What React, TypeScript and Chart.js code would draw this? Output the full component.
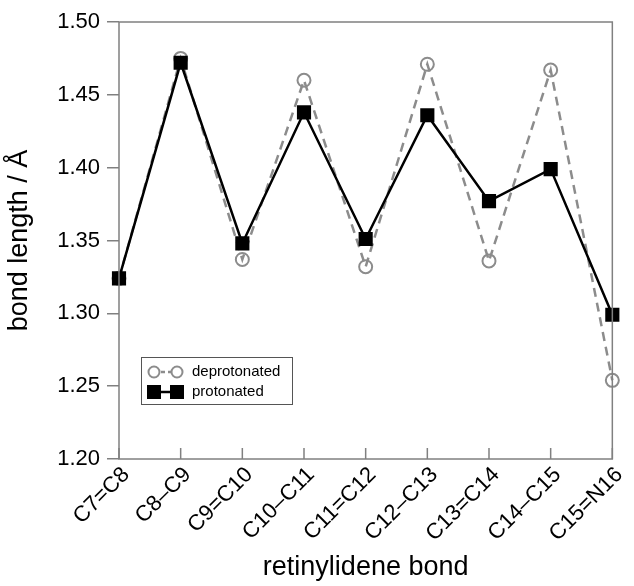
import React, { useEffect, useRef } from "react";
import { Chart, registerables } from "chart.js";

Chart.register(...registerables);

const categories = ["C7=C8", "C8–C9", "C9=C10", "C10–C11", "C11=C12", "C12–C13", "C13=C14", "C14–C15", "C15=N16"];
const deprotonated = [1.324, 1.475, 1.337, 1.460, 1.332, 1.471, 1.336, 1.467, 1.254];
const protonated = [1.324, 1.472, 1.348, 1.438, 1.351, 1.436, 1.377, 1.399, 1.299];
const legendLabels = ["deprotonated", "protonated"];

const FONT = "'Liberation Sans', Arial, Helvetica, sans-serif";
const AXIS_GRAY = "#808080";
const DEP_GRAY = "#8c8c8c";

const framePlugin = {
  id: "frameAndLegend",
  afterDatasetsDraw(chart: any) {
    const { ctx, chartArea: a, scales } = chart;
    ctx.save();
    // frame
    ctx.strokeStyle = AXIS_GRAY;
    ctx.lineWidth = 1.5;
    ctx.strokeRect(a.left, a.top, a.right - a.left, a.bottom - a.top);
    // inward x ticks
    const xs = scales.x;
    ctx.beginPath();
    for (let i = 0; i < categories.length; i++) {
      const px = xs.getPixelForValue(i);
      ctx.moveTo(px, a.bottom);
      ctx.lineTo(px, a.bottom - 11);
    }
    ctx.stroke();
    // legend
    const bx = a.left + 22, by = a.top + 335, bw = 151, bh = 47;
    ctx.fillStyle = "#fff";
    ctx.fillRect(bx, by, bw, bh);
    ctx.strokeStyle = "#555";
    ctx.lineWidth = 1;
    ctx.strokeRect(bx + 0.5, by + 0.5, bw, bh);
    const r1 = by + 15, r2 = by + 35;
    const s1 = bx + 13, s2 = bx + 36;
    // deprotonated sample
    ctx.strokeStyle = DEP_GRAY;
    ctx.lineWidth = 2.5;
    ctx.setLineDash([4, 3]);
    ctx.beginPath();
    ctx.moveTo(s1, r1);
    ctx.lineTo(s2, r1);
    ctx.stroke();
    ctx.setLineDash([]);
    ctx.lineWidth = 2;
    for (const cx of [s1, s2]) {
      ctx.beginPath();
      ctx.arc(cx, r1, 5.5, 0, Math.PI * 2);
      ctx.fillStyle = "#fff";
      ctx.fill();
      ctx.stroke();
    }
    // protonated sample
    ctx.strokeStyle = "#000";
    ctx.lineWidth = 2.5;
    ctx.beginPath();
    ctx.moveTo(s1, r2);
    ctx.lineTo(s2, r2);
    ctx.stroke();
    ctx.fillStyle = "#000";
    for (const cx of [s1, s2]) {
      ctx.fillRect(cx - 7, r2 - 7, 14, 14);
    }
    ctx.fillStyle = "#000";
    ctx.font = `15px ${FONT}`;
    ctx.textBaseline = "middle";
    ctx.textAlign = "left";
    ctx.fillText(legendLabels[0], bx + 51, r1);
    ctx.fillText(legendLabels[1], bx + 51, r2);
    ctx.restore();
  },
};

export default function App() {
  const ref = useRef<HTMLCanvasElement | null>(null);
  useEffect(() => {
    document.body.style.margin = "0";
    const canvas = ref.current!;
    const chart = new Chart(canvas, {
      type: "line",
      data: {
        labels: categories,
        datasets: [
          {
            label: legendLabels[1],
            data: protonated,
            borderColor: "#000",
            backgroundColor: "#000",
            borderWidth: 2.5,
            pointStyle: "rect",
            pointRadius: 10,
            pointBorderWidth: 0,
            pointBackgroundColor: "#000",
            tension: 0,
          },
          {
            label: legendLabels[0],
            data: deprotonated,
            borderColor: DEP_GRAY,
            backgroundColor: "#fff",
            borderWidth: 2.5,
            borderDash: [9, 6],
            pointStyle: "circle",
            pointRadius: 6.5,
            pointBorderWidth: 2,
            pointBorderColor: DEP_GRAY,
            pointBackgroundColor: "rgba(255,255,255,0)",
            tension: 0,
          },
        ],
      },
      options: {
        animation: false,
        responsive: false,
        maintainAspectRatio: false,
        layout: { padding: { top: 22, right: 21, left: 0, bottom: 0 } },
        plugins: { legend: { display: false }, tooltip: { enabled: false } },
        scales: {
          x: {
            type: "category",
            offset: false,
            grid: { display: false, drawTicks: false },
            border: { display: false },
            ticks: {
              autoSkip: false,
              minRotation: 45,
              maxRotation: 45,
              padding: 3,
              labelOffset: 7,
              color: "#000",
              font: { family: FONT, size: 22 },
            },
            title: {
              display: true,
              text: "retinylidene bond",
              color: "#000",
              font: { family: FONT, size: 27 },
              padding: { top: 0, bottom: 2 },
            },
            afterFit: (s: any) => {
              s.height = 127;
            },
          },
          y: {
            min: 1.2,
            max: 1.5,
            grid: {
              drawOnChartArea: false,
              drawTicks: true,
              tickLength: 12,
              color: AXIS_GRAY,
              lineWidth: 1.5,
            },
            border: { display: false },
            ticks: {
              stepSize: 0.05,
              padding: 7,
              color: "#000",
              font: { family: FONT, size: 22 },
              callback: (v: any) => Number(v).toFixed(2),
            },
            title: {
              display: true,
              text: "bond length / Å",
              color: "#000",
              font: { family: FONT, size: 27 },
              padding: { top: 3, bottom: 0 },
            },
            afterFit: (s: any) => {
              s.width = 119;
            },
          },
        },
      },
      plugins: [framePlugin],
    } as any);
    return () => chart.destroy();
  }, []);
  return (
    <div style={{ width: 634, height: 586 }}>
      <canvas ref={ref} width={634} height={586} style={{ display: "block" }} />
    </div>
  );
}
